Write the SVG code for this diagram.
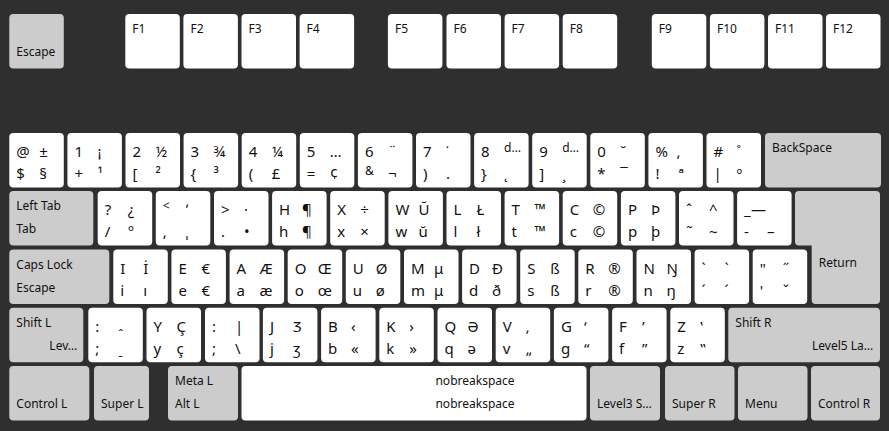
<svg xmlns="http://www.w3.org/2000/svg" width="889" height="431" viewBox="0 0 889 431">
<style>
.bg{fill:#2f2f2f}
.k{fill:#ffffff}
.m{fill:#cccccc}
text{font-family:"Noto Sans","DejaVu Sans",sans-serif;fill:#111}
.c{font-size:15px}
.s{font-size:12px}
.e{text-anchor:end}
.mid{text-anchor:middle}
</style>
<defs>
<rect id="u" width="54.5" height="54.5" rx="4"/>
</defs>
<rect class="bg" width="889" height="431"/>
<g id="connectors"/>
<!-- Function row -->
<g id="k-esc" transform="translate(9.3,14)"><rect class="m" width="54.5" height="54.5" rx="4"/><text class="s" x="7" y="42">Escape</text></g>
<g id="k-f1" transform="translate(125.3,14)"><use href="#u" class="k"/><text class="s" x="7" y="19">F1</text></g>
<g id="k-f2" transform="translate(183.4,14)"><use href="#u" class="k"/><text class="s" x="7" y="19">F2</text></g>
<g id="k-f3" transform="translate(241.5,14)"><use href="#u" class="k"/><text class="s" x="7" y="19">F3</text></g>
<g id="k-f4" transform="translate(299.6,14)"><use href="#u" class="k"/><text class="s" x="7" y="19">F4</text></g>
<g id="k-f5" transform="translate(387.9,14)"><use href="#u" class="k"/><text class="s" x="7" y="19">F5</text></g>
<g id="k-f6" transform="translate(446.5,14)"><use href="#u" class="k"/><text class="s" x="7" y="19">F6</text></g>
<g id="k-f7" transform="translate(504.6,14)"><use href="#u" class="k"/><text class="s" x="7" y="19">F7</text></g>
<g id="k-f8" transform="translate(562.7,14)"><use href="#u" class="k"/><text class="s" x="7" y="19">F8</text></g>
<g id="k-f9" transform="translate(651.8,14)"><use href="#u" class="k"/><text class="s" x="7" y="19">F9</text></g>
<g id="k-f10" transform="translate(709.9,14)"><use href="#u" class="k"/><text class="s" x="7" y="19">F10</text></g>
<g id="k-f11" transform="translate(768,14)"><use href="#u" class="k"/><text class="s" x="7" y="19">F11</text></g>
<g id="k-f12" transform="translate(826,14)"><use href="#u" class="k"/><text class="s" x="7" y="19">F12</text></g>
<!-- Row 1 -->
<g id="k-at" transform="translate(9.3,133)"><use href="#u" class="k"/><text class="c" x="7" y="24">@</text><text class="c" x="30" y="24">±</text><text class="c" x="7" y="46">$</text><text class="c" x="30" y="46">§</text></g>
<g id="k-1" transform="translate(67.4,133)"><use href="#u" class="k"/><text class="c" x="7" y="24">1</text><text class="c" x="30" y="24">¡</text><text class="c" x="7" y="46">+</text><text class="c" x="30" y="46">¹</text></g>
<g id="k-2" transform="translate(125.5,133)"><use href="#u" class="k"/><text class="c" x="7" y="24">2</text><text class="c" x="30" y="24">½</text><text class="c" x="7" y="46">[</text><text class="c" x="30" y="46">²</text></g>
<g id="k-3" transform="translate(183.6,133)"><use href="#u" class="k"/><text class="c" x="7" y="24">3</text><text class="c" x="30" y="24">¾</text><text class="c" x="7" y="46">{</text><text class="c" x="30" y="46">³</text></g>
<g id="k-4" transform="translate(241.7,133)"><use href="#u" class="k"/><text class="c" x="7" y="24">4</text><text class="c" x="30" y="24">¼</text><text class="c" x="7" y="46">(</text><text class="c" x="30" y="46">£</text></g>
<g id="k-5" transform="translate(299.8,133)"><use href="#u" class="k"/><text class="c" x="7" y="24">5</text><text class="c" x="30" y="24">…</text><text class="c" x="7" y="46">=</text><text class="c" x="30" y="46">¢</text></g>
<g id="k-6" transform="translate(357.9,133)"><use href="#u" class="k"/><text class="c" x="7" y="24">6</text><text class="c" x="30" y="24">¨</text><text class="s" x="7" y="42">&amp;</text><text class="c" x="30" y="46">¬</text></g>
<g id="k-7" transform="translate(416,133)"><use href="#u" class="k"/><text class="c" x="7" y="24">7</text><text class="c" x="30" y="24">˙</text><text class="c" x="7" y="46">)</text><text class="c" x="30" y="46">.</text></g>
<g id="k-8" transform="translate(474.1,133)"><use href="#u" class="k"/><text class="c" x="7" y="24">8</text><text class="s" x="30" y="19">d…</text><text class="c" x="7" y="46">}</text><text class="c" x="30" y="46">˛</text></g>
<g id="k-9" transform="translate(532.2,133)"><use href="#u" class="k"/><text class="c" x="7" y="24">9</text><text class="s" x="30" y="19">d…</text><text class="c" x="7" y="46">]</text><text class="c" x="30" y="46">¸</text></g>
<g id="k-0" transform="translate(590.3,133)"><use href="#u" class="k"/><text class="c" x="7" y="24">0</text><text class="c" x="30" y="24">˘</text><text class="c" x="7" y="46">*</text><text class="c" x="30" y="46">¯</text></g>
<g id="k-pct" transform="translate(648.4,133)"><use href="#u" class="k"/><text class="c" x="7" y="24">%</text><text class="c" x="28" y="24">,</text><text class="c" x="7" y="46">!</text><text class="c" x="30" y="46">ª</text></g>
<g id="k-hash" transform="translate(706.5,133)"><use href="#u" class="k"/><text class="c" x="7" y="24">#</text><text class="c" x="30" y="24">˚</text><text class="c" x="7" y="46">|</text><text class="c" x="30" y="46">º</text></g>
<g id="k-bksp" transform="translate(765,133)"><rect class="m" width="116" height="54.5" rx="4"/><text class="s" x="7" y="19">BackSpace</text></g>
<!-- Row 2 -->
<g id="k-tab" transform="translate(9.3,191)"><rect class="m" width="84" height="54.5" rx="4"/><text class="s" x="7" y="19">Left Tab</text><text class="s" x="7" y="42">Tab</text></g>
<g id="k-q" transform="translate(97.7,191)"><use href="#u" class="k"/><text class="c" x="7" y="24">?</text><text class="c" x="30" y="24">¿</text><text class="c" x="7" y="46">/</text><text class="c" x="30" y="46">°</text></g>
<g id="k-w" transform="translate(155.8,191)"><use href="#u" class="k"/><text class="s" x="7" y="19">&lt;</text><text class="c" x="30" y="24">ʼ</text><text class="c" x="7" y="46">,</text><text class="c" x="30" y="46">ˌ</text></g>
<g id="k-e" transform="translate(214,191)"><use href="#u" class="k"/><text class="c" x="7" y="24">&gt;</text><text class="c" x="30" y="24">·</text><text class="c" x="7" y="46">.</text><text class="c" x="30" y="46">•</text></g>
<g id="k-r" transform="translate(272.1,191)"><use href="#u" class="k"/><text class="c" x="7" y="24">H</text><text class="c" x="30" y="24">¶</text><text class="c" x="7" y="46">h</text><text class="c" x="30" y="46">¶</text></g>
<g id="k-t" transform="translate(330.2,191)"><use href="#u" class="k"/><text class="c" x="7" y="24">X</text><text class="c" x="30" y="24">÷</text><text class="c" x="7" y="46">x</text><text class="c" x="30" y="46">×</text></g>
<g id="k-y" transform="translate(388.4,191)"><use href="#u" class="k"/><text class="c" x="7" y="24">W</text><text class="c" x="30" y="24">Ŭ</text><text class="c" x="7" y="46">w</text><text class="c" x="30" y="46">ŭ</text></g>
<g id="k-u" transform="translate(446.5,191)"><use href="#u" class="k"/><text class="c" x="7" y="24">L</text><text class="c" x="30" y="24">Ł</text><text class="c" x="7" y="46">l</text><text class="c" x="30" y="46">ł</text></g>
<g id="k-i" transform="translate(504.6,191)"><use href="#u" class="k"/><text class="c" x="7" y="24">T</text><text class="c" x="30" y="24">™</text><text class="c" x="7" y="46">t</text><text class="c" x="30" y="46">™</text></g>
<g id="k-o" transform="translate(562.7,191)"><use href="#u" class="k"/><text class="c" x="7" y="24">C</text><text class="c" x="30" y="24">©</text><text class="c" x="7" y="46">c</text><text class="c" x="30" y="46">©</text></g>
<g id="k-p" transform="translate(620.9,191)"><use href="#u" class="k"/><text class="c" x="7" y="24">P</text><text class="c" x="30" y="24">Þ</text><text class="c" x="7" y="46">p</text><text class="c" x="30" y="46">þ</text></g>
<g id="k-lbr" transform="translate(679,191)"><use href="#u" class="k"/><text class="c" x="7" y="24">ˆ</text><text class="c" x="30" y="24">^</text><text class="c" x="7" y="46">˜</text><text class="c" x="30" y="46">~</text></g>
<g id="k-rbr" transform="translate(737.1,191)"><use href="#u" class="k"/><text class="c" x="7" y="24">_</text><text class="c" x="14" y="24">—</text><text class="c" x="7" y="46">-</text><text class="c" x="30" y="46">–</text></g>
<g id="k-ret"><path class="m" d="M799,191 H876 Q880,191 880,195 V300 Q880,304 876,304 H815.7 Q811.7,304 811.7,300 V245.5 H799 Q795,245.5 795,241.5 V195 Q795,191 799,191 Z"/><text class="s" x="818.7" y="267">Return</text></g>
<!-- Row 3 -->
<g id="k-caps" transform="translate(9.3,249.5)"><rect class="m" width="100" height="54.5" rx="4"/><text class="s" x="7" y="19">Caps Lock</text><text class="s" x="7" y="42">Escape</text></g>
<g id="k-a" transform="translate(113.3,249.5)"><use href="#u" class="k"/><text class="c" x="7" y="24">I</text><text class="c" x="30" y="24">İ</text><text class="c" x="7" y="46">i</text><text class="c" x="30" y="46">ı</text></g>
<g id="k-s" transform="translate(171.4,249.5)"><use href="#u" class="k"/><text class="c" x="7" y="24">E</text><text class="c" x="30" y="24">€</text><text class="c" x="7" y="46">e</text><text class="c" x="30" y="46">€</text></g>
<g id="k-d" transform="translate(229.6,249.5)"><use href="#u" class="k"/><text class="c" x="7" y="24">A</text><text class="c" x="30" y="24">Æ</text><text class="c" x="7" y="46">a</text><text class="c" x="30" y="46">æ</text></g>
<g id="k-f" transform="translate(287.7,249.5)"><use href="#u" class="k"/><text class="c" x="7" y="24">O</text><text class="c" x="30" y="24">Œ</text><text class="c" x="7" y="46">o</text><text class="c" x="30" y="46">œ</text></g>
<g id="k-g" transform="translate(345.8,249.5)"><use href="#u" class="k"/><text class="c" x="7" y="24">U</text><text class="c" x="30" y="24">Ø</text><text class="c" x="7" y="46">u</text><text class="c" x="30" y="46">ø</text></g>
<g id="k-h" transform="translate(404,249.5)"><use href="#u" class="k"/><text class="c" x="7" y="24">M</text><text class="c" x="30" y="24">μ</text><text class="c" x="7" y="46">m</text><text class="c" x="30" y="46">μ</text></g>
<g id="k-j" transform="translate(462.1,249.5)"><use href="#u" class="k"/><text class="c" x="7" y="24">D</text><text class="c" x="30" y="24">Đ</text><text class="c" x="7" y="46">d</text><text class="c" x="30" y="46">ð</text></g>
<g id="k-k" transform="translate(520.2,249.5)"><use href="#u" class="k"/><text class="c" x="7" y="24">S</text><text class="c" x="30" y="24">ß</text><text class="c" x="7" y="46">s</text><text class="c" x="30" y="46">ß</text></g>
<g id="k-l" transform="translate(578.3,249.5)"><use href="#u" class="k"/><text class="c" x="7" y="24">R</text><text class="c" x="30" y="24">®</text><text class="c" x="7" y="46">r</text><text class="c" x="30" y="46">®</text></g>
<g id="k-semi" transform="translate(636.5,249.5)"><use href="#u" class="k"/><text class="c" x="7" y="24">N</text><text class="c" x="30" y="24">Ŋ</text><text class="c" x="7" y="46">n</text><text class="c" x="30" y="46">ŋ</text></g>
<g id="k-apos" transform="translate(694.6,249.5)"><use href="#u" class="k"/><text class="c" x="7" y="24">ˋ</text><text class="c" x="30" y="24">ˋ</text><text class="c" x="7" y="46">ˊ</text><text class="c" x="30" y="46">ˊ</text></g>
<g id="k-bksl" transform="translate(752.7,249.5)"><use href="#u" class="k"/><text class="c" x="7" y="24">"</text><text class="c" x="30" y="24">˝</text><text class="c" x="7" y="46">'</text><text class="c" x="30" y="46">ˇ</text></g>
<!-- Row 4 -->
<g id="k-lsh" transform="translate(9.3,307.8)"><rect class="m" width="74" height="54.5" rx="4"/><text class="s" x="7" y="19">Shift L</text><text class="s e" x="68" y="42">Lev…</text></g>
<g id="k-lsgt" transform="translate(88.3,307.8)"><use href="#u" class="k"/><text class="c" x="7" y="24">:</text><text class="s" x="30" y="31">ˆ</text><text class="c" x="7" y="46">;</text><text class="s" x="30" y="47.5">ˍ</text></g>
<g id="k-z" transform="translate(146.5,307.8)"><use href="#u" class="k"/><text class="c" x="7" y="24">Y</text><text class="c" x="30" y="24">Ç</text><text class="c" x="7" y="46">y</text><text class="c" x="30" y="46">ç</text></g>
<g id="k-x" transform="translate(205,307.8)"><use href="#u" class="k"/><text class="c" x="7" y="24">:</text><text class="c" x="30" y="24">|</text><text class="c" x="7" y="46">;</text><text class="c" x="30" y="46">\</text></g>
<g id="k-c" transform="translate(262.9,307.8)"><use href="#u" class="k"/><text class="c" x="7" y="24">J</text><text class="c" x="30" y="24">Ʒ</text><text class="c" x="7" y="46">j</text><text class="c" x="30" y="46">ʒ</text></g>
<g id="k-v" transform="translate(321.1,307.8)"><use href="#u" class="k"/><text class="c" x="7" y="24">B</text><text class="c" x="30" y="24">‹</text><text class="c" x="7" y="46">b</text><text class="c" x="30" y="46">«</text></g>
<g id="k-b" transform="translate(379.3,307.8)"><use href="#u" class="k"/><text class="c" x="7" y="24">K</text><text class="c" x="30" y="24">›</text><text class="c" x="7" y="46">k</text><text class="c" x="30" y="46">»</text></g>
<g id="k-n" transform="translate(437.5,307.8)"><use href="#u" class="k"/><text class="c" x="7" y="24">Q</text><text class="c" x="30" y="24">Ə</text><text class="c" x="7" y="46">q</text><text class="c" x="30" y="46">ə</text></g>
<g id="k-m" transform="translate(495.7,307.8)"><use href="#u" class="k"/><text class="c" x="7" y="24">V</text><text class="c" x="30" y="24">‚</text><text class="c" x="7" y="46">v</text><text class="c" x="30" y="46">„</text></g>
<g id="k-comma" transform="translate(553.9,307.8)"><use href="#u" class="k"/><text class="c" x="7" y="24">G</text><text class="c" x="30" y="24">‘</text><text class="c" x="7" y="46">g</text><text class="c" x="30" y="46">“</text></g>
<g id="k-period" transform="translate(612.1,307.8)"><use href="#u" class="k"/><text class="c" x="7" y="24">F</text><text class="c" x="30" y="24">’</text><text class="c" x="7" y="46">f</text><text class="c" x="30" y="46">”</text></g>
<g id="k-slash" transform="translate(670.3,307.8)"><use href="#u" class="k"/><text class="c" x="7" y="24">Z</text><text class="c" x="30" y="24">‛</text><text class="c" x="7" y="46">z</text><text class="c" x="30" y="46">‟</text></g>
<g id="k-rsh" transform="translate(728.3,307.8)"><rect class="m" width="151.7" height="54.5" rx="4"/><text class="s" x="7" y="19">Shift R</text><text class="s e" x="145" y="42">Level5 La…</text></g>
<!-- Row 5 -->
<g id="k-lctl" transform="translate(9.3,366)"><rect class="m" width="80" height="54.5" rx="4"/><text class="s" x="7" y="42">Control L</text></g>
<g id="k-lwin" transform="translate(94,366)"><rect class="m" width="55" height="54.5" rx="4"/><text class="s" x="7" y="42">Super L</text></g>
<g id="k-lalt" transform="translate(168,366)"><rect class="m" width="70" height="54.5" rx="4"/><text class="s" x="7" y="19">Meta L</text><text class="s" x="7" y="42">Alt L</text></g>
<g id="k-spce" transform="translate(241.5,366)"><rect class="k" width="345" height="54.5" rx="4"/><text class="s mid" x="233.5" y="19">nobreakspace</text><text class="s mid" x="233.5" y="42">nobreakspace</text></g>
<g id="k-ralt" transform="translate(590,366)"><rect class="m" width="70" height="54.5" rx="4"/><text class="s" x="7" y="42">Level3 S…</text></g>
<g id="k-rwin" transform="translate(665,366)"><rect class="m" width="69.5" height="54.5" rx="4"/><text class="s" x="7" y="42">Super R</text></g>
<g id="k-menu" transform="translate(738,366)"><rect class="m" width="69.5" height="54.5" rx="4"/><text class="s" x="7" y="42">Menu</text></g>
<g id="k-rctl" transform="translate(811,366)"><rect class="m" width="69" height="54.5" rx="4"/><text class="s" x="7" y="42">Control R</text></g>
</svg>
